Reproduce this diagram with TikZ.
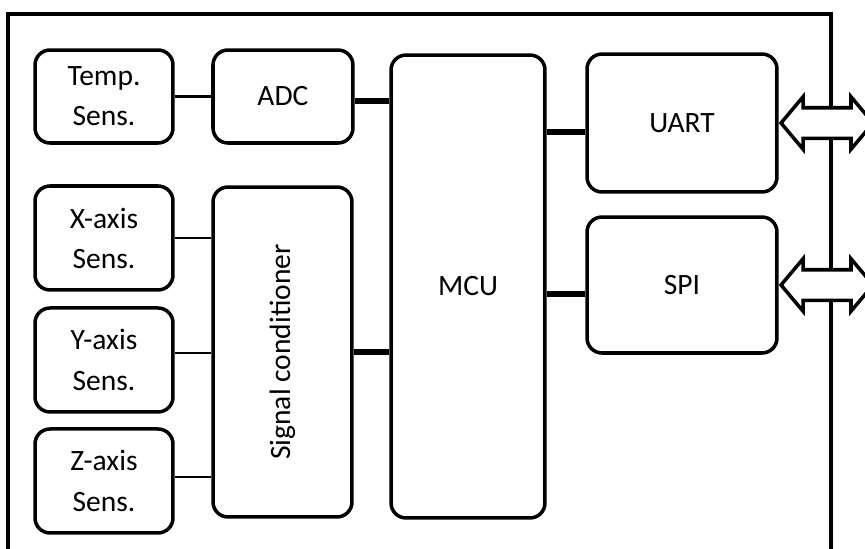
\documentclass[tikz,border=0pt]{standalone}
\usepackage{fontspec}
\setmainfont{Carlito}
\usetikzlibrary{shapes.arrows,positioning}

\begin{document}
\begin{tikzpicture}[x=0.02cm, y=-0.02cm, font=\fontsize{16.8}{22.8}\selectfont,
    blk/.style={rectangle, draw, rounded corners=0.3cm, line width=2pt, align=center, inner sep=0pt},
    sensbox/.style={blk, minimum width=2.76cm, minimum height=2.08cm},
    thinlink/.style={line width=1.3pt},
    buslink/.style={line width=3.2pt},
    iobus/.style={double arrow, draw, fill=white, line width=2pt, anchor=west, inner sep=0.27cm,
      minimum height=1.84cm, double arrow head extend=0.22cm, double arrow tip angle=100}]
        \useasboundingbox (0,0) rectangle (865,548);
        \clip (0,0) rectangle (865,548);

        % board outline
        \draw[line width=2.3pt] (8,570) -- (8,14) -- (831,14) -- (831,570);

        % sensors
        \node[blk, minimum width=2.76cm, minimum height=1.86cm] (temp) at (104,96.5) {Temp.\\Sens.};
        \node[sensbox, below=0.79cm of temp] (xs) {X-axis\\Sens.};
        \node[sensbox, below=0.29cm of xs] (ys) {Y-axis\\Sens.};
        \node[sensbox, below=0.27cm of ys] (zs) {Z-axis\\Sens.};

        \node[blk, minimum width=2.8cm, minimum height=1.86cm, right=0.73cm of temp] (adc) {ADC};
        \node[blk, minimum width=2.78cm, minimum height=6.6cm] (sc) at (282.5,352) {\rotatebox{90}{Signal conditioner}};

        \node[blk, minimum width=3.08cm, minimum height=9.26cm] (mcu) at (468,286.5) {MCU};

        \node[blk, minimum width=3.8cm, minimum height=2.76cm] (uart) at (682,123) {UART};
        \node[blk, minimum width=3.8cm, minimum height=2.72cm] (spi) at (682,285) {SPI};

        % analog side
        \draw[thinlink] (temp) -- (adc);
        \draw[thinlink] (xs.east) -- (xs.east -| sc.west);
        \draw[thinlink] ([yshift=0.14cm]ys.east) -- ([yshift=0.14cm]ys.east -| sc.west);
        \draw[thinlink] ([yshift=0.08cm]zs.east) -- ([yshift=0.08cm]zs.east -| sc.west);

        % into the MCU
        \draw[buslink] ([yshift=-0.09cm]adc.east) -- ([yshift=-0.09cm]adc.east -| mcu.west);
        \draw[buslink] (sc.east) -- (sc.east -| mcu.west);

        % MCU to interfaces
        \draw[buslink] ([yshift=-0.18cm]uart.west) -- ([yshift=-0.18cm]uart.west -| mcu.east);
        \draw[buslink] ([yshift=-0.18cm]spi.west) -- ([yshift=-0.18cm]spi.west -| mcu.east);

        % external buses
        \node[iobus] (uartio) at (uart.east) {};
        \node[iobus] (spiio) at (spi.east) {};
      \end{tikzpicture}
\end{document}
